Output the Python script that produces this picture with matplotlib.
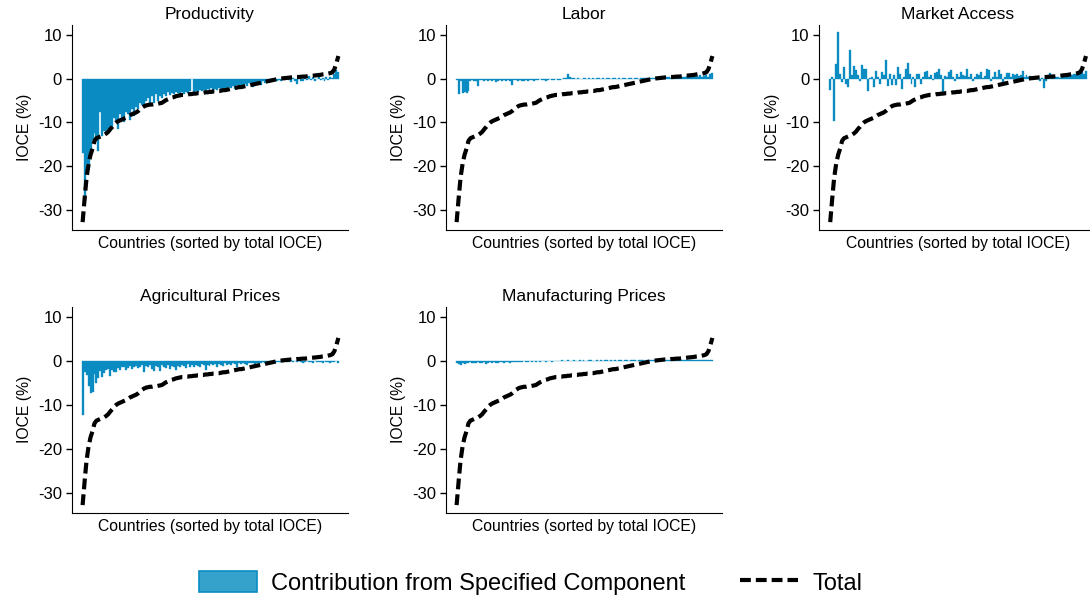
import matplotlib
matplotlib.use("Agg")
import matplotlib.pyplot as plt
from matplotlib.patches import Patch
from matplotlib.lines import Line2D
import numpy as np

plt.rcParams['font.family'] = ['Liberation Sans', 'DejaVu Sans']

# Total IOCE (%) per country, sorted ascending
total = [
    -32.8, -27.5, -22.6, -19.5, -17.4, -16.0, -14.2, -13.6, -13.4, -13.2,
    -13.0, -12.8, -12.5, -12.1, -11.5, -11.0, -10.4, -10.0, -9.7, -9.5,
    -9.3, -9.1, -8.9, -8.6, -8.3, -8.1, -7.9, -7.7, -7.4, -7.0,
    -6.6, -6.3, -6.1, -6.0, -5.9, -5.9, -5.8, -5.8, -5.7, -5.6,
    -5.5, -5.2, -4.9, -4.7, -4.5, -4.3, -4.2, -4.0, -3.9, -3.8,
    -3.7, -3.7, -3.6, -3.6, -3.5, -3.5, -3.4, -3.4, -3.3, -3.3,
    -3.2, -3.2, -3.1, -3.1, -3.0, -3.0, -2.9, -2.9, -2.8, -2.8,
    -2.7, -2.6, -2.6, -2.5, -2.4, -2.3, -2.2, -2.1, -2.0, -1.9,
    -1.9, -1.8, -1.7, -1.6, -1.5, -1.4, -1.3, -1.2, -1.1, -1.0,
    -0.9, -0.8, -0.7, -0.6, -0.5, -0.4, -0.3, -0.2, -0.1, 0.0,
    0.05, 0.1, 0.15, 0.2, 0.25, 0.3, 0.3, 0.35, 0.4, 0.4,
    0.45, 0.5, 0.5, 0.55, 0.6, 0.65, 0.7, 0.75, 0.8, 0.85,
    0.9, 1.0, 1.05, 1.1, 1.2, 1.3, 1.5, 2.2, 3.6, 5.2,
]

productivity = [
    -17.0, -28.0, -19.5, -20.5, -17.0, -14.0, -12.5, -13.5, -16.5, -7.5,
    -13.0, -12.0, -12.5, -11.5, -12.0, -11.0, -9.0, -10.0, -11.5, -8.0,
    -9.0, -10.0, -7.5, -8.0, -9.5, -7.0, -8.5, -6.5, -7.0, -5.5,
    -6.0, -6.5, -5.0, -4.5, -6.0, -4.0, -5.5, -3.5, -5.0, -4.0,
    -4.5, -3.5, -4.0, -3.0, -3.8, -3.2, -3.6, -3.0, -3.3, -3.5,
    -3.0, -3.4, -3.1, -3.2, -2.9, -0.1, -3.0, -2.8, -3.1, -2.6,
    -2.9, -2.5, -2.8, -2.4, -2.7, -2.2, -3.0, -2.3, -2.6, -2.0,
    -2.4, -2.2, -2.0, -2.5, -1.8, -2.1, -1.6, -2.3, -1.5, -1.8,
    -1.4, -1.9, -1.2, -1.6, -1.0, -1.3, -1.8, -0.9, -1.2, -0.8,
    -1.4, -0.6, -1.0, -0.5, -0.8, -0.4, -0.6, -0.3, -0.5, -0.2,
    -0.4, -0.1, -0.3, 0.5, -0.2, -0.8, 0.2, -0.5, -1.2, 0.3,
    -0.4, -0.6, 0.4, -0.3, 0.6, -0.2, 0.3, -0.5, -0.1, 0.4,
    -0.3, 0.2, -0.6, 0.5, -0.2, 0.3, 0.1, 1.0, 2.0, 1.5,
]

labor = [
    -0.3, -3.5, -0.5, -3.3, -3.0, -3.2, -2.8, -0.4, -0.3, -0.5,
    -0.4, -1.6, -0.3, -0.2, -0.4, -0.3, -0.6, -0.2, -0.5, -0.3,
    -0.7, -0.4, -0.3, -0.6, -0.2, -0.4, -0.3, -0.5, -1.5, -0.3,
    -0.2, -0.4, -0.3, -0.6, -0.4, -0.2, -0.5, -0.3, -0.2, -0.4,
    -0.2, -0.3, -0.1, -0.2, -0.3, -0.4, -0.2, -0.1, -0.3, -0.2,
    -0.1, -0.2, -0.3, -0.1, 0.2, 0.1, 1.0, 0.3, 0.2, 0.1,
    -0.1, 0.1, 0.0, -0.1, 0.1, 0.1, -0.1, 0.1, 0.0, 0.1,
    -0.1, 0.1, 0.1, 0.0, 0.1, -0.1, 0.1, 0.1, 0.0, 0.1,
    0.1, -0.1, 0.1, 0.0, 0.1, 0.1, 0.0, 0.1, 0.1, 0.0,
    0.1, 0.1, 0.0, 0.1, 0.1, 0.2, 0.1, 0.0, 0.2, 0.1,
    0.1, 0.2, 0.1, 0.3, 0.4, 0.2, 0.3, 0.4, 0.2, 0.5,
    0.3, 0.4, 0.6, 0.3, 0.5, 0.4, 0.6, 0.3, 0.5, 0.7,
    0.4, 0.6, 0.5, 0.8, 0.4, 0.6, 0.9, 0.5, 1.2, 1.4,
]

market_access = [
    -2.5, 0.3, -9.7, 3.3, 10.7, 1.2, -0.8, 2.6, -1.2, -1.9,
    6.6, 0.8, 2.9, 2.0, 0.8, -0.5, 3.1, 2.3, 2.3, -2.7,
    0.2, 0.5, -1.8, 1.8, 0.5, -1.2, 1.6, 0.8, 4.4, -1.7,
    1.2, -1.5, 0.8, -1.4, 2.6, 1.2, -2.3, 0.5, 2.2, 3.5,
    1.1, -1.2, 0.4, -1.8, 1.1, 1.2, -1.2, 0.5, 1.6, 1.7,
    0.3, 0.9, -0.3, 1.4, 1.5, 2.2, 0.8, -3.1, 0.6, 0.5,
    1.6, 1.9, 0.3, -0.6, 1.2, 0.4, 1.6, 0.8, 0.7, 2.2,
    0.5, 1.2, -0.4, 0.3, 1.2, 0.8, 1.6, 0.2, 0.6, 2.3,
    1.9, -0.6, 0.4, 1.6, 0.5, 1.9, 1.0, -0.8, 0.3, 1.4,
    1.3, 0.5, 1.0, 0.8, 1.2, 0.6, 0.9, 1.7, 0.4, 0.9,
    0.3, 0.6, 0.4, 0.5, 0.3, 0.4, -0.4, 0.2, -2.0, -0.5,
    0.3, 1.4, 0.8, 0.5, 0.3, 0.4, 0.2, 0.5, 0.3, 0.6,
    0.9, 1.0, 0.8, 1.1, 1.0, 0.9, 1.3, 1.6, 1.2, 1.8,
]

agricultural_prices = [
    -12.3, -2.5, -3.2, -5.8, -7.3, -7.2, -3.1, -5.0, -3.8, -2.4,
    -3.6, -2.8, -2.0, -1.8, -3.4, -2.0, -2.6, -2.5, -1.6, -2.0,
    -1.5, -1.3, -2.2, -1.6, -1.2, -1.8, -1.4, -1.1, -1.6, -1.3,
    -1.0, -2.6, -1.2, -1.5, -1.0, -1.9, -2.4, -1.1, -1.4, -2.3,
    -1.0, -1.3, -1.7, -0.9, -1.9, -1.2, -1.5, -2.0, -1.1, -1.4,
    -0.9, -1.2, -1.6, -0.8, -1.3, -1.0, -1.5, -0.9, -1.1, -1.3,
    -0.8, -1.0, -2.2, -0.9, -1.2, -0.7, -1.0, -0.8, -1.3, -0.7,
    -0.9, -1.1, -0.6, -0.9, -0.7, -1.0, -0.6, -0.8, -1.5, -0.6,
    -0.8, -0.5, -0.7, -0.9, -0.5, -0.6, -0.4, -0.7, -0.5, -0.4,
    -0.6, -0.3, -0.5, -0.4, -0.3, -0.5, -0.3, -0.4, -0.2, -0.3,
    -0.2, -0.3, -0.1, -0.2, -0.3, 0.1, -0.2, -0.1, -0.3, 0.2,
    -0.2, -0.4, -0.2, -0.1, -0.3, -0.2, -0.4, -0.1, -0.2, -0.3,
    -0.2, -0.5, -0.1, -0.3, -0.2, -0.4, -0.3, -0.2, -0.1, -0.6,
]

manufacturing_prices = [
    -0.5, -0.7, -0.9, -0.6, -0.8, -0.4, -0.6, -0.3, -0.5, -0.4,
    -0.6, -0.3, -0.4, -0.5, -0.3, -0.7, -0.4, -0.3, -0.5, -0.3,
    -0.4, -0.6, -0.3, -0.2, -0.4, -0.3, -0.2, -0.4, -0.3, -0.2,
    -0.3, -0.2, -0.3, -0.2, -0.1, -0.2, -0.3, -0.1, -0.2, -0.1,
    -0.2, -0.1, -0.2, -0.1, -0.1, -0.2, -0.1, -0.1, -0.2, -0.1,
    -0.1, 0.0, -0.1, 0.1, -0.1, 0.0, 0.1, -0.1, 0.0, 0.1,
    0.0, -0.1, 0.1, 0.0, 0.1, -0.1, 0.0, 0.1, 0.1, 0.0,
    -0.1, 0.1, 0.0, 0.1, 0.0, 0.1, 0.1, 0.0, 0.1, 0.0,
    0.1, 0.0, 0.1, 0.1, 0.0, 0.1, 0.1, 0.0, 0.1, 0.1,
    0.1, 0.0, 0.1, 0.1, 0.1, 0.0, 0.1, 0.1, 0.1, 0.1,
    0.1, 0.1, 0.0, 0.1, 0.1, 0.1, 0.1, 0.1, 0.1, 0.1,
    0.1, 0.1, 0.1, 0.1, 0.1, 0.1, 0.1, 0.1, 0.1, 0.1,
    0.1, 0.1, 0.1, 0.1, 0.1, 0.1, 0.1, 0.1, 0.1, 0.1,
]

panel_titles = ["Productivity", "Labor", "Market Access",
                "Agricultural Prices", "Manufacturing Prices"]
components = [productivity, labor, market_access,
              agricultural_prices, manufacturing_prices]
yticks = [10, 0, -10, -20, -30]

BAR_COLOR = "#0a8cc2"
LEGEND_FILL = "#35a2cb"
DASH = (0, (2.6, 1.2))

fig = plt.figure(figsize=(10.9, 6.01), dpi=100)

W, H = 1090.0, 601.0
ax_w = 276.6 / W
row_px = [(25.0, 230.0), (306.7, 513.0)]
lefts = [71.7, 445.7, 819.3]

positions = []
for r, (top_px, bot_px) in enumerate(row_px):
    for c in range(3):
        if r == 1 and c == 2:
            continue
        positions.append([lefts[c] / W, 1 - bot_px / H, ax_w, (bot_px - top_px) / H])

x = np.arange(len(total))
for pos, title, comp in zip(positions, panel_titles, components):
    ax = fig.add_axes(pos)
    ax.bar(x, comp, width=1.0, color=BAR_COLOR, edgecolor=BAR_COLOR, linewidth=0.25)
    ax.plot(x, total, color="black", lw=3.0, linestyle=DASH, solid_capstyle="butt")
    ax.set_xlim(-5.5, 134)
    ax.set_ylim(-34.6, 12.3)
    ax.set_yticks(yticks)
    ax.set_yticklabels([str(t) for t in yticks])
    ax.set_xticks([])
    ax.spines["top"].set_visible(False)
    ax.spines["right"].set_visible(False)
    ax.tick_params(axis="y", labelsize=12, length=4, width=1, pad=3)
    ax.set_title(title, fontsize=12.5, pad=4)
    ax.set_ylabel("IOCE (%)", fontsize=11.3, labelpad=4)
    ax.set_xlabel("Countries (sorted by total IOCE)", fontsize=11.3, labelpad=4)

handles = [
    Patch(facecolor=LEGEND_FILL, edgecolor=BAR_COLOR, linewidth=1.2,
          label="Contribution from Specified Component"),
    Line2D([0], [0], color="black", lw=3.0, linestyle=DASH, label="Total"),
]
fig.legend(handles=handles, loc="center", bbox_to_anchor=(0.487, 0.030), ncol=2,
           frameon=False, fontsize=17, handlelength=2.45, handleheight=1.0,
           columnspacing=2.3, handletextpad=0.6)

fig.savefig("out.png", dpi=100)
